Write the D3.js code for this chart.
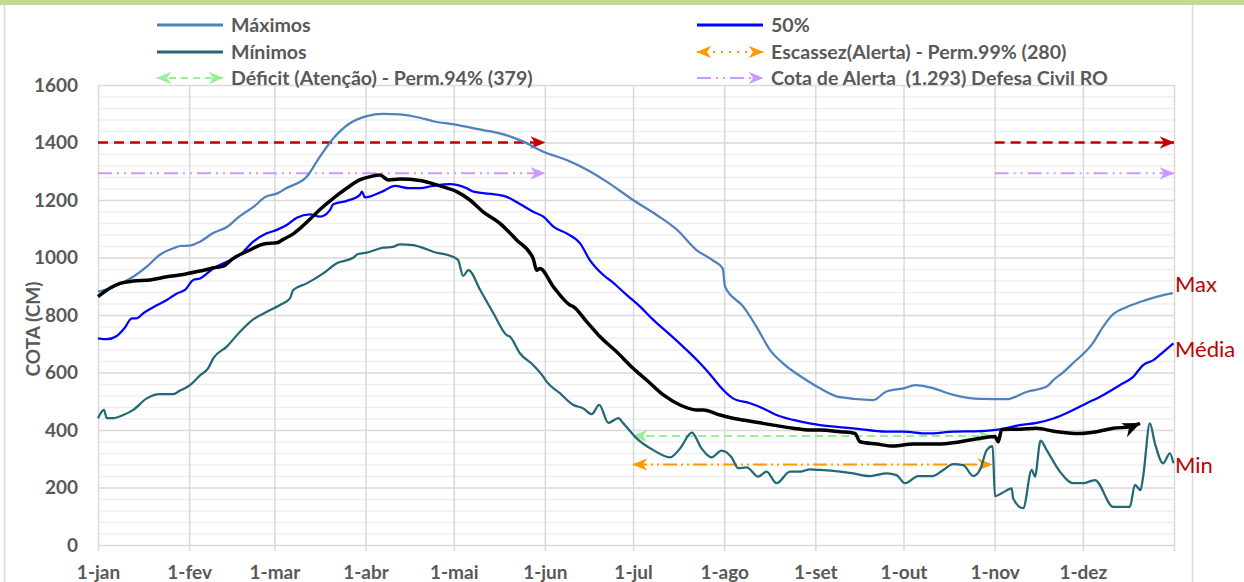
<!DOCTYPE html>
<html>
<head>
<meta charset="utf-8">
<script src="https://cdn.jsdelivr.net/npm/d3@7"></script>
<style>
  body { margin: 0; background: #fff; }
  svg text { font-family: Lato, "Open Sans", sans-serif; }
</style>
</head>
<body>
<svg id="chart" width="1244" height="582"></svg>
<script>
// ---- data (day = days since 1-jan, leap year) ----
var monthNames = ["jan", "fev", "mar", "abr", "mai", "jun", "jul", "ago", "set", "out", "nov", "dez"];
var yTicks = [0, 200, 400, 600, 800, 1000, 1200, 1400, 1600];

var maximos = [[0,881],[4,893],[12,933],[16.6,968],[21,1009],[25.6,1032],[28,1040],[31,1041],[34.7,1055],
  [39,1084],[44,1107],[48,1142],[53,1177],[57,1211],[61,1223],[64,1241],[71,1281],[75.5,1351],[80,1414],
  [85.7,1467],[91.4,1492],[97,1500],[102.7,1498],[109.5,1486],[114,1474],[121,1463],[131,1443],[136.7,1432],
  [144.7,1403],[151.5,1368],[159.4,1339],[166,1307],[173,1264],[182,1200],[190,1148],[197,1096],[203.6,1026],
  [209,991],[212.5,962],[213.3,898],[219.5,829],[224,759],[228.6,678],[233,632],[240,580],[245.6,545],
  [252.4,514],[263.7,504],[268,533],[274,545],[278,556],[283,548],[291,522],[300,508],[309,507],[316,533],
  [322.7,551],[325,574],[328,598],[331.6,632],[338.4,702],[341.8,758],[345,800],[350,828],[354.4,845],
  [360,863],[365.6,876]];

var mediana = [[0,719],[3,716],[6.4,727],[9,754],[11.5,788],[13,788],[15.4,806],[18.8,827],[23.4,852],
  [26.8,875],[29.6,887],[32.4,922],[34.7,927],[39.2,962],[43.8,985],[48.3,1009],[52.8,1055],[57.4,1084],
  [60.8,1096],[64.2,1113],[67.6,1138],[72.1,1150],[75.5,1142],[78.9,1165],[80,1185],[84.6,1197],[89,1217],
  [89.8,1229],[90.8,1209],[97,1231],[101,1249],[106,1241],[109.5,1241],[114,1249],[119.7,1255],[125.4,1241],
  [127.7,1229],[136.7,1217],[139,1211],[143.5,1186],[148,1159],[151.5,1142],[154.9,1107],[159.4,1084],
  [164,1049],[167.3,991],[171.9,939],[175.3,912],[179.8,870],[184.4,829],[188.9,783],[193.4,742],[199,690],
  [204.8,632],[209.3,580],[211.6,551],[216,510],[221.8,493],[226.3,475],[230.8,452],[236.5,435],[242,423],
  [245.6,417],[256.9,406],[268.2,394],[273.9,394],[281.9,388],[290.9,394],[300,396],[306.8,402],[313.6,417],
  [319.3,425],[325,440],[330.6,464],[336.3,493],[342,522],[347.6,556],[352.1,585],[355.5,626],[359,643],
  [362.4,672],[365.8,701]];

var minimos = [[0,441],[2,470],[3,441],[5.2,441],[8.6,452],[12,470],[16.6,510],[21,525],[25.6,525],
  [27.9,537],[31.3,556],[34.7,590],[37.5,615],[39.2,649],[43.8,690],[48.3,742],[52.8,785],[57.4,811],
  [61.9,835],[65.3,858],[66.4,887],[71,910],[76.6,945],[81.2,980],[86.8,999],[88.5,1012],[91.4,1017],
  [97,1034],[100.4,1037],[102.7,1046],[107.2,1043],[109.5,1037],[114,1020],[121.4,999],[122.5,991],
  [124.2,936],[126,956],[130,887],[134.5,806],[139,730],[140.1,725],[143.5,667],[148,626],[151.5,585],
  [152.6,568],[157.1,528],[161.7,487],[165.1,475],[167.9,455],[170.5,487],[173.6,425],[177,441],[178.7,423],
  [183.2,371],[188.9,330],[194.6,305],[198,336],[202,391],[205.3,336],[208.7,305],[212.1,328],[215.5,305],
  [217.8,267],[220.6,270],[224.6,238],[227.4,255],[230.8,215],[235.4,255],[238.8,255],[242.2,263],
  [245.6,261],[252.4,255],[256.9,249],[262.6,240],[268.3,249],[271.6,243],[274.5,215],[279,240],[284,240],
  [287.5,261],[290.9,281],[294.3,278],[297.7,240],[300,261],[302.3,330],[304.3,344],[305.1,170],[307.4,180],
  [310.8,197],[311.3,162],[314.7,128],[317.6,261],[318.7,238],[320.6,363],[322.7,330],[327.2,255],
  [331.7,215],[335.1,215],[339.1,226],[345.3,133],[351,133],[352.7,209],[354.6,191],[355.5,238],[357.8,423],
  [359.5,354],[362.3,284],[364.6,319],[365.8,284]];

var observado = [[0,864],[4,893],[7.5,910],[12,918],[17.7,922],[23.4,933],[29,941],[34.7,953],[40.4,966],
  [42.6,970],[46,997],[51.7,1026],[55.1,1043],[57.4,1049],[60.8,1051],[63,1063],[66.4,1082],[68.7,1101],
  [72.1,1133],[75.5,1167],[80,1206],[84.6,1241],[89,1270],[92.5,1281],[95.9,1287],[98.7,1270],[102.7,1273],
  [109.5,1268],[116.3,1249],[122,1229],[126.5,1200],[131,1159],[136.7,1119],[142.4,1061],[148,997],
  [149.2,956],[150.3,962],[154.9,898],[160.5,835],[161.7,829],[166.2,777],[170.7,725],[176.4,672],[182,615],
  [186.6,574],[192.3,522],[198,487],[203.6,470],[205.9,470],[211.6,452],[216,441],[222.9,429],[229.7,417],
  [236.5,406],[242.2,400],[245.6,400],[252.4,394],[257.5,388],[259.2,359],[264.9,351],[270.5,344],
  [277.3,351],[285.3,351],[293.2,359],[300,371],[305.1,377],[306.2,359],[307.4,402],[313.6,403],[319.3,406],
  [325,396],[334,388],[339.7,394],[345.3,406],[351,411],[354.4,423]];

var cotaInundacao = 1400;
var cotaAlerta = 1293;
var deficitAtencao = 379;
var escassezAlerta = 280;
var periodoCheia = [[0, 152], [305, 366]];
var periodoSeca = [182, 304];

var legendLabels = ["Máximos", "50%", "Mínimos", "Escassez(Alerta) - Perm.99% (280)",
  "Déficit (Atenção) - Perm.94% (379)", "Cota de Alerta  (1.293) Defesa Civil RO"];
var endLabels = ["Max", "Média", "Min"];

// ---- setup ----
var plotLeft = 98, plotRight = 1174, plotTop = 85, plotBottom = 545;
var t0 = Date.UTC(2024, 0, 1);
function dayDate(d) { return new Date(t0 + d * 864e5); }

var x = d3.scaleUtc().domain([dayDate(0), dayDate(366)]).range([plotLeft, plotRight]);
var y = d3.scaleLinear().domain([0, 1600]).range([plotBottom, plotTop]);

var svg = d3.select('#chart');

// frame
svg.append('rect').attr('x', 0).attr('y', 0).attr('width', 1244).attr('height', 5).attr('fill', '#c4d79b');
svg.append('line').attr('x1', 4.5).attr('x2', 4.5).attr('y1', 5).attr('y2', 582).attr('stroke', '#d9d9d9').attr('stroke-width', 1.5);
svg.append('line').attr('x1', 1192.5).attr('x2', 1192.5).attr('y1', 5).attr('y2', 582).attr('stroke', '#d9d9d9').attr('stroke-width', 1.5);

// markers
var defs = svg.append('defs');
function stealth(id, color, len, wid) {
  defs.append('marker').attr('id', id)
    .attr('markerUnits', 'userSpaceOnUse')
    .attr('viewBox', '0 0 12 10').attr('refX', 11.5).attr('refY', 5)
    .attr('markerWidth', len).attr('markerHeight', wid)
    .attr('orient', 'auto-start-reverse')
    .append('path').attr('d', 'M0,0 L12,5 L0,10 L3.5,5 Z').attr('fill', color);
}
stealth('arRed', '#c00000', 15, 13);
stealth('arPurple', '#cc99ff', 15, 13);
stealth('arGreen', '#99ee99', 15, 13);
stealth('arOrange', '#ff9900', 15, 13);
stealth('arBlack', '#000', 18, 15);

// grid
var months = d3.range(13).map(function(i) { return new Date(Date.UTC(2024, i, 1)); });
var minorTicks = d3.range(0, 1601, 40).filter(function(v) { return v % 200 !== 0; });

svg.append('g').attr('transform', 'translate(' + plotLeft + ',0)')
  .call(d3.axisLeft(y).tickValues(minorTicks).tickSize(-(plotRight - plotLeft)).tickFormat(''))
  .call(function(g) { g.select('.domain').remove(); g.selectAll('line').attr('stroke', '#efefef').attr('stroke-width', 1.5); });

svg.append('g').attr('transform', 'translate(' + plotLeft + ',0)')
  .call(d3.axisLeft(y).tickValues(yTicks).tickSize(-(plotRight - plotLeft)).tickFormat(''))
  .call(function(g) { g.select('.domain').remove(); g.selectAll('line').attr('stroke', '#d9d9d9').attr('stroke-width', 1.5); });

svg.append('g').attr('transform', 'translate(0,' + (plotBottom + 6) + ')')
  .call(d3.axisBottom(x).tickValues(months).tickSize(-(plotBottom + 6 - plotTop)).tickFormat(''))
  .call(function(g) { g.select('.domain').remove(); g.selectAll('line').attr('stroke', '#d9d9d9').attr('stroke-width', 1.5); });

// axis labels
svg.append('g').attr('transform', 'translate(' + plotLeft + ',0)')
  .call(d3.axisLeft(y).tickValues(yTicks).tickSize(0).tickPadding(20).tickFormat(d3.format('d')))
  .call(function(g) {
    g.select('.domain').remove();
    g.selectAll('text').attr('fill', '#595959').style('font-size', '19px').style('font-weight', 700).attr('font-family', null);
  });

svg.append('g').attr('transform', 'translate(0,' + plotBottom + ')')
  .call(d3.axisBottom(x).tickValues(months.slice(0, 12)).tickSize(0).tickPadding(21)
    .tickFormat(function(d) { return '1-' + monthNames[d.getUTCMonth()]; }))
  .call(function(g) {
    g.select('.domain').remove();
    g.selectAll('text').attr('fill', '#595959').style('font-size', '19px').style('font-weight', 700).attr('font-family', null);
  });

svg.append('text').attr('transform', 'translate(40,' + ((plotTop + plotBottom) / 2 + 14) + ') rotate(-90)')
  .attr('text-anchor', 'middle').attr('fill', '#595959')
  .style('font-size', '19px').style('font-weight', 700).text('COTA (CM)');

// reference arrows
function hline(value, a, b, color, dash, width, mStart, mEnd) {
  var l = svg.append('line')
    .attr('x1', x(dayDate(a))).attr('x2', x(dayDate(b)))
    .attr('y1', y(value)).attr('y2', y(value))
    .attr('stroke', color).attr('stroke-width', width).attr('stroke-dasharray', dash);
  if (mStart) l.attr('marker-start', 'url(#' + mStart + ')');
  if (mEnd) l.attr('marker-end', 'url(#' + mEnd + ')');
}
periodoCheia.forEach(function(p) {
  hline(cotaInundacao, p[0], p[1], '#c00000', '10,6', 2.5, null, 'arRed');
  hline(cotaAlerta, p[0], p[1], '#cc99ff', '14,5,2,5,2,5', 2, null, 'arPurple');
});
hline(deficitAtencao, periodoSeca[0], periodoSeca[1], '#99ee99', '8,5', 2, 'arGreen', 'arGreen');
hline(escassezAlerta, periodoSeca[0], periodoSeca[1], '#ff9900', '14,4,2,4,2,4', 2, 'arOrange', 'arOrange');

// series
var line = d3.line()
  .x(function(d) { return x(dayDate(d[0])); })
  .y(function(d) { return y(d[1]); })
  .curve(d3.curveMonotoneX);

svg.append('path').datum(maximos).attr('d', line).attr('fill', 'none').attr('stroke', '#4f81bd').attr('stroke-width', 2.25);
svg.append('path').datum(mediana).attr('d', line).attr('fill', 'none').attr('stroke', '#0000ff').attr('stroke-width', 2.25);
svg.append('path').datum(minimos).attr('d', line).attr('fill', 'none').attr('stroke', '#226877').attr('stroke-width', 2.25);
svg.append('path').datum(observado).attr('d', line).attr('fill', 'none').attr('stroke', '#000').attr('stroke-width', 3.5)
  .attr('marker-end', 'url(#arBlack)');

// end labels (slightly nudged off the line ends, as in the original)
var lastVals = [maximos, mediana, minimos].map(function(s) { return s[s.length - 1][1]; });
var labelNudge = [-1, 14, 10];
svg.selectAll('.endlab').data(endLabels).enter().append('text')
  .attr('x', plotRight + 1).attr('y', function(d, i) { return y(lastVals[i]) + labelNudge[i]; })
  .attr('fill', '#c00000').style('font-size', '22px').text(function(d) { return d; });

// legend
var legX = [157, 697], legY = [25, 52, 78], sampleW = 66;
var legendStyle = [
  { color: '#4f81bd', dash: null },
  { color: '#0000ff', dash: null },
  { color: '#226877', dash: null },
  { color: '#ff9900', dash: '2,6', ms: 'arOrange', me: 'arOrange' },
  { color: '#99ee99', dash: '7,5', ms: 'arGreen', me: 'arGreen' },
  { color: '#cc99ff', dash: '14,5,2,5,2,5', me: 'arPurple' }
];
legendLabels.forEach(function(lab, i) {
  var cx = legX[i % 2], cy = legY[Math.floor(i / 2)], st = legendStyle[i];
  var l = svg.append('line').attr('x1', cx).attr('x2', cx + sampleW).attr('y1', cy).attr('y2', cy)
    .attr('stroke', st.color).attr('stroke-width', i < 3 ? 3 : 2);
  if (st.dash) l.attr('stroke-dasharray', st.dash);
  if (st.ms) l.attr('marker-start', 'url(#' + st.ms + ')');
  if (st.me) l.attr('marker-end', 'url(#' + st.me + ')');
  svg.append('text').attr('x', cx + sampleW + 8).attr('y', cy + 7)
    .attr('fill', '#595959').style('font-size', '19.6px').style('font-weight', 700)
    .style('white-space', 'pre').text(lab);
});
</script>
</body>
</html>
